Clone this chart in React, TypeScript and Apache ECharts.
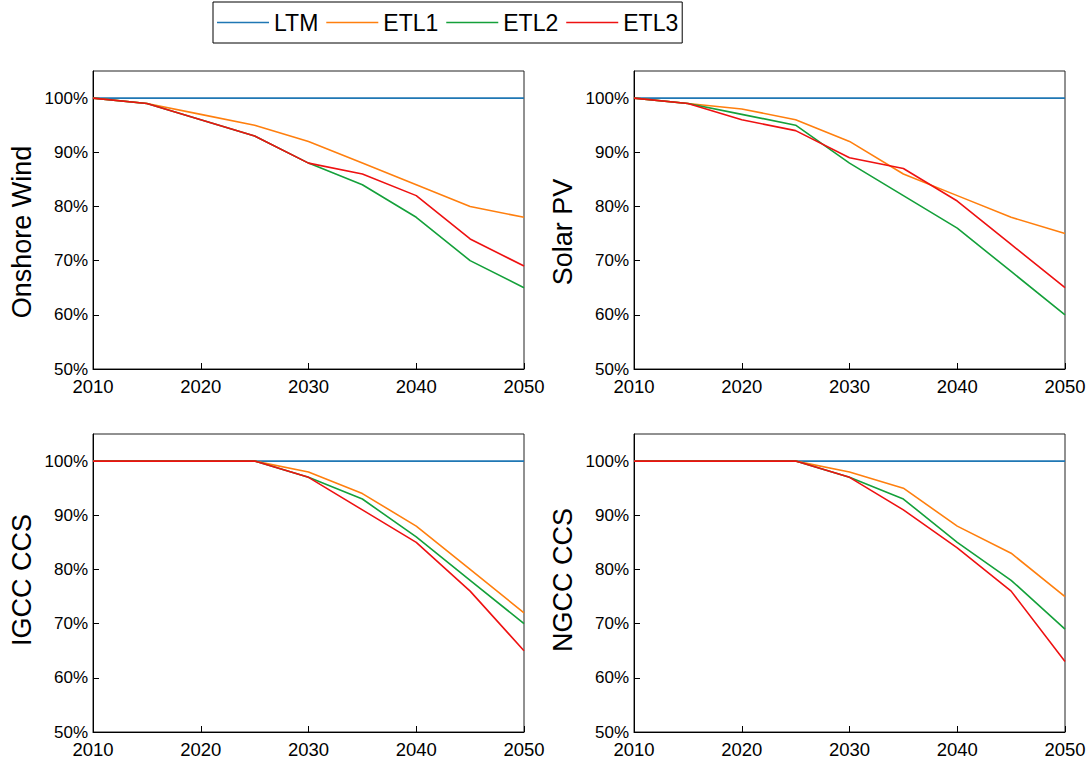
import React, { useEffect, useRef } from "react";
import * as echarts from "echarts";

const years = [2010, 2015, 2020, 2025, 2030, 2035, 2040, 2045, 2050];
const seriesNames = ["LTM", "ETL1", "ETL2", "ETL3"];
const colors = ["#1f77b4", "#ff7f0e", "#14a03a", "#ee1111"];
const panelTitles = ["Onshore Wind", "Solar PV", "IGCC CCS", "NGCC CCS"];

const ltm = [100, 100, 100, 100, 100, 100, 100, 100, 100];

const windETL1 = [100, 99, 97, 95, 92, 88, 84, 80, 78];
const windETL2 = [100, 99, 96, 93, 88, 84, 78, 70, 65];
const windETL3 = [100, 99, 96, 93, 88, 86, 82, 74, 69];

const solarETL1 = [100, 99, 98, 96, 92, 86, 82, 78, 75];
const solarETL2 = [100, 99, 97, 95, 88, 82, 76, 68, 60];
const solarETL3 = [100, 99, 96, 94, 89, 87, 81, 73, 65];

const igccETL1 = [100, 100, 100, 100, 98, 94, 88, 80, 72];
const igccETL2 = [100, 100, 100, 100, 97, 93, 86, 78, 70];
const igccETL3 = [100, 100, 100, 100, 97, 91, 85, 76, 65];

const ngccETL1 = [100, 100, 100, 100, 98, 95, 88, 83, 75];
const ngccETL2 = [100, 100, 100, 100, 97, 93, 85, 78, 69];
const ngccETL3 = [100, 100, 100, 100, 97, 91, 84, 76, 63];

const panelData = [
  [ltm, windETL1, windETL2, windETL3],
  [ltm, solarETL1, solarETL2, solarETL3],
  [ltm, igccETL1, igccETL2, igccETL3],
  [ltm, ngccETL1, ngccETL2, ngccETL3],
];

const FONT = "Liberation Sans, Arial, sans-serif";

export default function App() {
  const ref = useRef<HTMLDivElement>(null);
  useEffect(() => {
    if (!ref.current) return;
    const chart = echarts.init(ref.current, null, { renderer: "svg" });
    const gridPos = [
      { left: 93, top: 71 },
      { left: 634, top: 71 },
      { left: 93, top: 434 },
      { left: 634, top: 434 },
    ];
    const namePad = [
      [0, 24, 0, 0],
      [0, 24, 0, 0],
      [0, 0, 0, 6],
      [0, 0, 0, 6],
    ];
    const grid = gridPos.map((g) => ({
      left: g.left,
      top: g.top,
      width: 431,
      height: 298,
      show: true,
      borderColor: "#222",
      borderWidth: 1,
      backgroundColor: "transparent",
    }));
    const xAxis = gridPos.map((_, i) => ({
      type: "value",
      gridIndex: i,
      min: 2010,
      max: 2050,
      interval: 10,
      axisLine: { show: true, lineStyle: { color: "#000", width: 1 } },
      axisTick: { show: true, inside: true, length: 6, lineStyle: { color: "#000" } },
      splitLine: { show: false },
      axisLabel: {
        color: "#000",
        fontSize: 18.5,
        fontFamily: FONT,
        margin: 8,
        formatter: (v: number) => String(v),
      },
    }));
    const yAxis = gridPos.map((_, i) => ({
      type: "value",
      gridIndex: i,
      min: 50,
      max: 105,
      interval: 10,
      name: panelTitles[i],
      nameLocation: "middle",
      nameGap: 58,
      nameTextStyle: {
        color: "#000",
        fontSize: 27,
        fontFamily: FONT,
        padding: namePad[i],
      },
      axisLine: { show: true, lineStyle: { color: "#000", width: 1 } },
      axisTick: { show: true, inside: true, length: 6, lineStyle: { color: "#000" } },
      splitLine: { show: false },
      axisLabel: {
        color: "#000",
        fontSize: 17,
        fontFamily: FONT,
        margin: 5,
        showMaxLabel: false,
        formatter: (v: number) => (v > 100 ? "" : v + "%"),
      },
    }));
    const series: any[] = [];
    panelData.forEach((panel, p) => {
      panel.forEach((vals, s) => {
        series.push({
          type: "line",
          name: seriesNames[s],
          xAxisIndex: p,
          yAxisIndex: p,
          data: years.map((y, k) => [y, vals[k]]),
          showSymbol: false,
          symbol: "none",
          lineStyle: { color: colors[s], width: 1.6 },
          itemStyle: { color: colors[s] },
          z: 2 + s,
        });
      });
    });
    chart.setOption({
      animation: false,
      backgroundColor: "#fff",
      color: colors,
      legend: {
        left: 213,
        top: 2,
        data: seriesNames,
        icon: "rect",
        itemWidth: 52,
        itemHeight: 1.6,
        itemGap: 8,
        padding: [9, 4, 9, 4],
        borderColor: "#000",
        borderWidth: 1,
        textStyle: { color: "#000", fontSize: 23, fontFamily: FONT },
      },
      grid,
      xAxis,
      yAxis,
      series,
    });
    return () => chart.dispose();
  }, []);
  return (
    <div
      ref={ref}
      style={{ position: "fixed", left: 0, top: 0, width: 1091, height: 765 }}
    />
  );
}
